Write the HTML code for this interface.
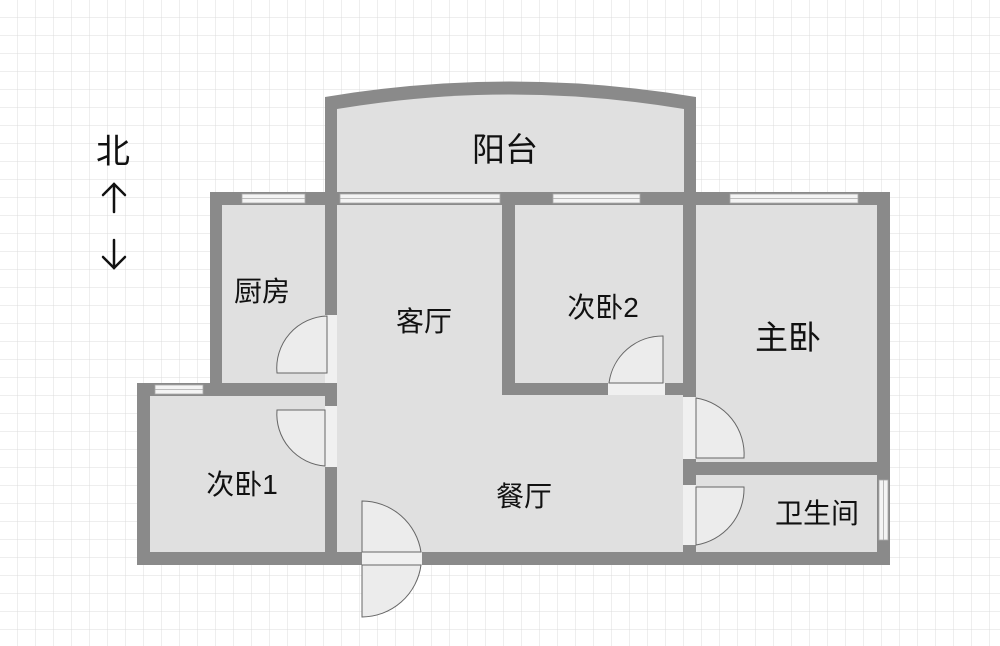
<!DOCTYPE html>
<html><head><meta charset="utf-8"><style>
html,body{margin:0;padding:0;background:#fff}
svg{display:block}
text{font-family:"Liberation Sans","Noto Sans CJK SC",sans-serif;fill:#111}
</style></head><body>
<svg width="1000" height="646" viewBox="0 0 1000 646" xmlns="http://www.w3.org/2000/svg">
<defs>
<pattern id="g" width="18" height="18" patternUnits="userSpaceOnUse">
<path d="M18 0V18H0" fill="none" stroke="#dcdcdc" stroke-width="1"/>
</pattern>
</defs>
<rect width="1000" height="646" fill="#fff"/>
<rect width="1000" height="646" fill="url(#g)"/>
<g fill="#8a8a8a">
<path d="M325 97 Q510 66 696 97 L696 205 L325 205Z"/>
<rect x="210" y="192" width="680" height="13"/>
<rect x="210" y="192" width="12" height="204"/>
<rect x="137" y="383" width="200" height="13"/>
<rect x="137" y="383" width="13" height="182"/>
<rect x="137" y="552" width="753" height="13"/>
<rect x="325" y="192" width="12" height="373"/>
<rect x="877" y="192" width="13" height="373"/>
<rect x="502" y="192" width="13" height="203"/>
<rect x="502" y="383" width="194" height="12"/>
<rect x="683" y="192" width="13" height="373"/>
<rect x="683" y="462" width="207" height="13"/>
</g>
<g fill="#e0e0e0">
<path d="M337 109 Q510 80 684 109 L684 192 L337 192Z"/>
<rect x="222" y="205" width="103" height="178"/>
<rect x="150" y="396" width="175" height="156"/>
<rect x="337" y="205" width="165" height="190"/>
<rect x="337" y="395" width="346" height="157"/>
<rect x="515" y="205" width="168" height="178"/>
<rect x="696" y="205" width="181" height="257"/>
<rect x="696" y="475" width="181" height="77"/>
</g>
<g fill="#f4f4f4" stroke="#aaa" stroke-width="0.8">
<rect x="340" y="194" width="160" height="9"/>
<rect x="242" y="194" width="63" height="9"/>
<rect x="155" y="385" width="48" height="9"/>
<rect x="553" y="194" width="87" height="9"/>
<rect x="730" y="194" width="128" height="9"/>
<rect x="879" y="480" width="9" height="60"/>
</g>
<g stroke="#aaa" stroke-width="0.8">
<line x1="340" y1="198.5" x2="500" y2="198.5"/>
<line x1="242" y1="198.5" x2="305" y2="198.5"/>
<line x1="155" y1="389.5" x2="203" y2="389.5"/>
<line x1="553" y1="198.5" x2="640" y2="198.5"/>
<line x1="730" y1="198.5" x2="858" y2="198.5"/>
<line x1="883.5" y1="480" x2="883.5" y2="540"/>
</g>
<g fill="#f0f0f0">
<rect x="325" y="315" width="12" height="68"/>
<rect x="325" y="406" width="12" height="61"/>
<rect x="362" y="552" width="60" height="13"/>
<rect x="608" y="383" width="57" height="12"/>
<rect x="683" y="397" width="13" height="62"/>
<rect x="683" y="485" width="13" height="60"/>
</g>
<g fill="#ececec" stroke="#666" stroke-width="1">
<path d="M327 373 L277 373 A52 52 0 0 1 327 316 Z"/>
<path d="M325 410 L277 410 A52 52 0 0 0 325 466 Z"/>
<path d="M362 552 L362 501 A60 60 0 0 1 421 552 Z"/>
<path d="M362 565 L362 617 A60 60 0 0 0 421 565 Z"/>
<path d="M663 383 L663 336 A54 54 0 0 0 609 383 Z"/>
<path d="M696 458 L744 458 A57 57 0 0 0 696 398 Z"/>
<path d="M696 487 L744 487 A57 57 0 0 1 696 545 Z"/>
</g>
<g font-size="33">
<text x="505" y="161" text-anchor="middle">阳台</text>
<text x="788" y="349" text-anchor="middle">主卧</text>
</g>
<g font-size="28">
<text x="262" y="301" text-anchor="middle">厨房</text>
<text x="424" y="331" text-anchor="middle">客厅</text>
<text x="603" y="317" text-anchor="middle">次卧2</text>
<text x="242" y="494" text-anchor="middle">次卧1</text>
<text x="524" y="506" text-anchor="middle">餐厅</text>
<text x="817" y="523" text-anchor="middle">卫生间</text>
</g>
<text x="113" y="163" font-size="34" text-anchor="middle">北</text>
<g stroke="#111" stroke-width="2.5" fill="none" stroke-linecap="round">
<line x1="114" y1="184" x2="114" y2="212"/><polyline points="103,195 114,184 125,195"/>
<line x1="114" y1="240" x2="114" y2="268"/><polyline points="103,257 114,268 125,257"/>
</g>
</svg>
</body></html>
